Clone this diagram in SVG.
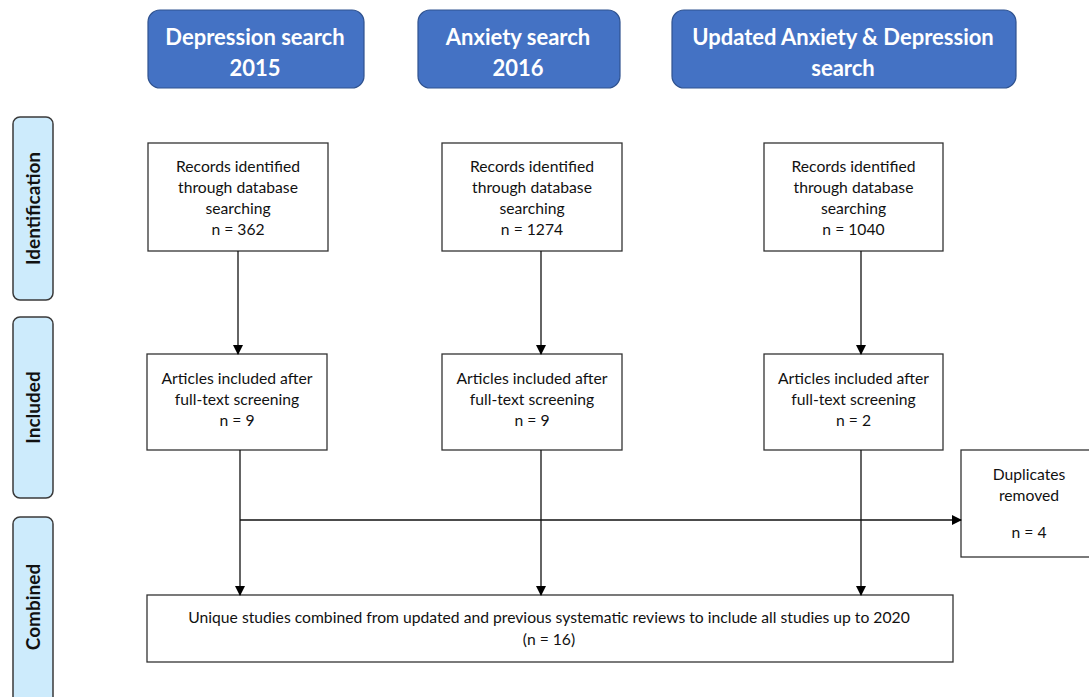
<svg xmlns="http://www.w3.org/2000/svg" width="1089" height="697" viewBox="0 0 1089 697">
<style>
.hdr{fill:#4472C4;stroke:#2F528F;stroke-width:1.2}
.hdrt{font-family:Lato,"Open Sans",sans-serif;font-weight:bold;font-size:22px;fill:#fff;text-anchor:middle}
.side{fill:#CDEBFC;stroke:#3a3a3a;stroke-width:1.5}
.sidet{font-family:Lato,"Open Sans",sans-serif;font-weight:bold;font-size:19px;fill:#111;text-anchor:middle}
.box{fill:#fff;stroke:#333;stroke-width:1.3}
.t{font-family:Lato,"Open Sans",sans-serif;font-size:15.7px;fill:#111;text-anchor:middle}
.ln{stroke:#111;stroke-width:1.3;fill:none;marker-end:url(#ah)}
</style>
<defs>
<marker id="ah" markerWidth="10" markerHeight="10" refX="9" refY="5" orient="auto" markerUnits="userSpaceOnUse">
<path d="M0,0 L10,5 L0,10 Z" fill="#000"/>
</marker>
</defs>
<rect width="1089" height="697" fill="#fff"/>

<g id="hdr-depression"><rect class="hdr" x="148" y="10" width="216" height="78" rx="12"/>
<text class="hdrt" x="255" y="45">Depression search</text><text class="hdrt" x="255" y="76">2015</text></g>
<g id="hdr-anxiety"><rect class="hdr" x="418" y="10" width="202" height="78" rx="12"/>
<text class="hdrt" x="518" y="45">Anxiety search</text><text class="hdrt" x="518" y="76">2016</text></g>
<g id="hdr-updated"><rect class="hdr" x="672" y="10" width="344" height="78" rx="12"/>
<text class="hdrt" x="843" y="45">Updated Anxiety &amp; Depression</text><text class="hdrt" x="843" y="76">search</text></g>

<g id="side-identification"><rect class="side" x="13" y="117" width="40" height="183" rx="7"/>
<text class="sidet" transform="translate(40,208.5) rotate(-90)">Identification</text></g>
<g id="side-included"><rect class="side" x="13" y="317" width="40" height="181" rx="7"/>
<text class="sidet" transform="translate(40,407.5) rotate(-90)">Included</text></g>
<g id="side-combined"><rect class="side" x="13" y="517" width="40" height="190" rx="7"/>
<text class="sidet" transform="translate(40,607) rotate(-90)">Combined</text></g>

<g id="rec1"><rect class="box" x="148" y="143" width="180" height="108"/>
<text class="t" x="238" y="172">Records identified</text><text class="t" x="238" y="193">through database</text><text class="t" x="238" y="214">searching</text><text class="t" x="238" y="235">n = 362</text></g>
<g id="rec2"><rect class="box" x="442" y="143" width="180" height="108"/>
<text class="t" x="532" y="172">Records identified</text><text class="t" x="532" y="193">through database</text><text class="t" x="532" y="214">searching</text><text class="t" x="532" y="235">n = 1274</text></g>
<g id="rec3"><rect class="box" x="764" y="143" width="179" height="108"/>
<text class="t" x="853.5" y="172">Records identified</text><text class="t" x="853.5" y="193">through database</text><text class="t" x="853.5" y="214">searching</text><text class="t" x="853.5" y="235">n = 1040</text></g>

<g id="inc1"><rect class="box" x="147" y="354" width="180" height="96"/>
<text class="t" x="237" y="384">Articles included after</text><text class="t" x="237" y="405">full-text screening</text><text class="t" x="237" y="426">n = 9</text></g>
<g id="inc2"><rect class="box" x="442" y="354" width="180" height="96"/>
<text class="t" x="532" y="384">Articles included after</text><text class="t" x="532" y="405">full-text screening</text><text class="t" x="532" y="426">n = 9</text></g>
<g id="inc3"><rect class="box" x="764" y="354" width="179" height="96"/>
<text class="t" x="853.5" y="384">Articles included after</text><text class="t" x="853.5" y="405">full-text screening</text><text class="t" x="853.5" y="426">n = 2</text></g>

<g id="dup"><rect class="box" x="961" y="450" width="140" height="107"/>
<text class="t" x="1029" y="480">Duplicates</text><text class="t" x="1029" y="501">removed</text><text class="t" x="1029" y="538">n = 4</text></g>

<g id="combined"><rect class="box" x="147" y="595" width="806" height="67"/>
<text class="t" x="549" y="623">Unique studies combined from updated and previous systematic reviews to include all studies up to 2020</text>
<text class="t" x="549" y="645">(n = 16)</text></g>

<g id="connectors">
<line class="ln" x1="238" y1="251" x2="238" y2="354"/>
<line class="ln" x1="541" y1="251" x2="541" y2="354"/>
<line class="ln" x1="861" y1="251" x2="861" y2="354"/>
<line class="ln" x1="240" y1="450" x2="240" y2="595"/>
<line class="ln" x1="541" y1="450" x2="541" y2="595"/>
<line class="ln" x1="861" y1="450" x2="861" y2="595"/>
<line class="ln" x1="240" y1="520" x2="961" y2="520"/>
</g>
</svg>
